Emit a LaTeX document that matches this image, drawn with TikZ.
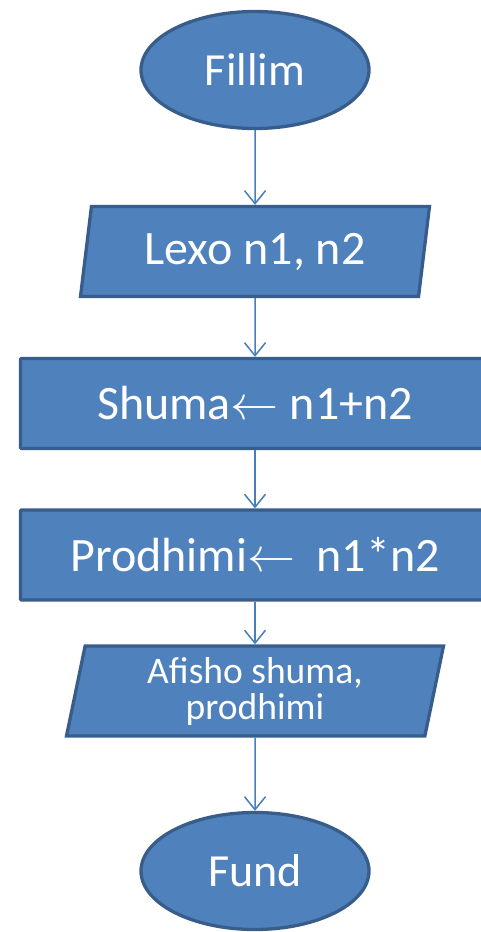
\RequirePackage{fix-cm}
\documentclass[tikz,border=0pt]{standalone}
\usepackage{fontspec}
\setmainfont{Carlito}
\usetikzlibrary{arrows.meta,shapes.geometric,positioning}
\definecolor{boxfill}{HTML}{4F81BD}
\definecolor{boxline}{HTML}{385D8A}
\definecolor{flowline}{HTML}{4A7EBB}

\begin{document}
\begin{tikzpicture}[x=1pt,y=1pt,on grid,
	base/.style={draw=boxline,fill=boxfill,line width=3.3pt,text=white,font=\fontsize{48}{52}\selectfont},
	terminal/.style={base,ellipse,minimum width=228pt,minimum height=117pt,font=\fontsize{46}{50}\selectfont},
	io/.style={base,trapezium,trapezium left angle=76,trapezium right angle=104,trapezium stretches body,minimum height=90pt},
	process/.style={base,rectangle,rounded corners=1pt,minimum width=469pt,minimum height=90pt},
	flow/.style={draw=flowline,line width=1.5pt,-{Straight Barb[length=13pt,width=21pt]}}]
	\clip (0,0) rectangle (481,-932);
	\useasboundingbox (0,0) rectangle (481,-932);
	
	\node[terminal] (fillim) at (255,-70) {Fillim};
	\node[io, minimum width=349pt, below=181.5pt of fillim] (lexo) {Lexo n1, n2};
	\node[process, below=152pt of lexo] (shuma) {Shuma$\leftarrow$ n1+n2};
	\node[process, below=151.5pt of shuma] (prodhimi) {Prodhimi$\leftarrow$\ \ n1*n2};
	\node[io, minimum width=377pt, align=center, font=\fontsize{37.5}{36}\selectfont, below=136pt of prodhimi] (afisho) {Afisho shuma,\\prodhimi};
	\node[terminal, below=180pt of afisho] (fund) {Fund};
	
	\path[flow] (fillim) edge (lexo)
	(lexo) edge (shuma)
	(shuma) edge (prodhimi)
	(prodhimi) edge (afisho)
	(afisho) edge (fund);
\end{tikzpicture}
\end{document}
